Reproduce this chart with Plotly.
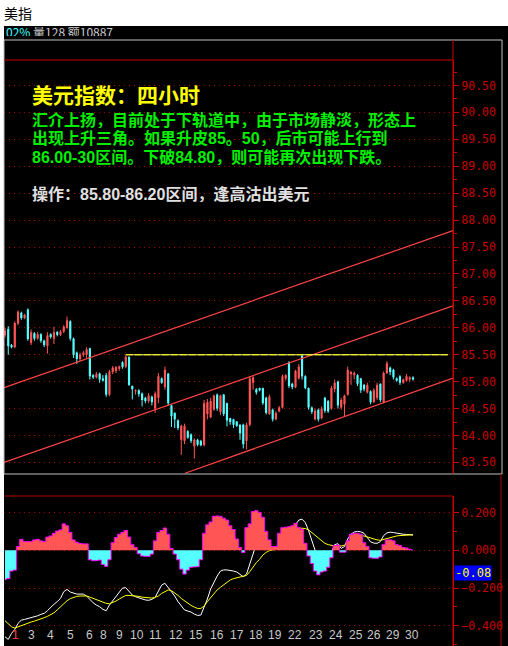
import plotly.graph_objects as go

# ---- US dollar index, 4-hour bars -------------------------------------------
opens = [85.86, 85.98, 85.68, 85.64, 86.08, 86.28, 86.18, 86.34, 85.72, 85.90,
         85.80, 85.88, 85.76, 85.66, 85.88, 85.80, 85.92, 85.87, 85.93, 86.00,
         86.12, 85.80, 85.54, 85.42, 85.50, 85.50, 85.62, 85.12, 85.08, 85.15,
         85.06, 85.12, 84.76, 85.18, 85.20, 85.24, 85.36, 85.28, 85.46, 84.92,
         84.82, 84.84, 84.78, 84.70, 84.64, 84.72, 84.50, 84.70, 85.06, 84.90,
         85.15, 84.56, 84.42, 84.28, 83.92, 83.90, 84.08, 84.02, 83.80, 83.92,
         83.90, 83.82, 84.40, 84.34, 84.48, 84.76, 84.44, 84.76, 84.60, 84.32,
         84.30, 84.26, 84.20, 84.20, 83.90, 84.20, 84.98, 84.86, 84.88, 84.88,
         84.70, 84.40, 84.48, 84.30, 84.45, 84.52, 85.06, 85.36, 84.96, 84.90,
         85.06, 85.48, 85.10, 84.88, 84.52, 84.30, 84.48, 84.32, 84.70, 84.64,
         84.50, 84.86, 85.00, 84.52, 84.58, 84.76, 85.14, 85.12, 85.12, 85.06,
         84.94, 84.80, 84.82, 84.62, 84.70, 84.96, 84.62, 85.16, 85.26, 85.22,
         85.06, 85.10, 84.98, 85.02, 85.04, 85.08]
highs = [86.00, 86.03, 85.70, 86.12, 86.32, 86.30, 86.26, 86.36, 85.97, 85.92,
         85.92, 85.90, 85.78, 85.92, 85.90, 86.02, 85.94, 85.96, 86.05, 86.21,
         86.14, 85.82, 85.56, 85.54, 85.57, 85.64, 85.63, 85.14, 85.18, 85.17,
         85.12, 85.16, 85.22, 85.29, 85.29, 85.30, 85.38, 85.49, 85.47, 84.93,
         84.86, 84.86, 84.80, 84.72, 84.79, 84.74, 84.82, 85.16, 85.08, 85.28,
         85.16, 84.57, 84.43, 84.30, 84.20, 84.22, 84.10, 84.04, 83.95, 83.94,
         83.92, 84.66, 84.68, 84.70, 84.76, 84.78, 84.76, 84.77, 84.61, 84.33,
         84.31, 84.27, 84.21, 84.22, 84.24, 85.10, 85.10, 84.88, 84.89, 84.89,
         84.72, 84.76, 84.50, 84.45, 84.55, 85.13, 85.14, 85.38, 84.98, 85.22,
         85.33, 85.50, 85.12, 84.89, 84.54, 84.50, 84.50, 84.54, 84.72, 84.66,
         84.92, 85.04, 85.02, 84.70, 84.76, 85.28, 85.20, 85.19, 85.14, 85.07,
         84.96, 84.98, 84.84, 84.88, 84.98, 84.97, 85.19, 85.38, 85.28, 85.24,
         85.08, 85.12, 85.06, 85.14, 85.10, 85.10]
lows = [85.82, 85.50, 85.62, 85.62, 86.05, 86.15, 86.16, 85.76, 85.68, 85.76,
        85.78, 85.72, 85.64, 85.52, 85.80, 85.70, 85.84, 85.85, 85.90, 85.98,
        85.76, 85.44, 85.33, 85.38, 85.46, 85.44, 85.04, 85.05, 85.06, 84.98,
        85.00, 84.72, 84.73, 85.14, 85.16, 85.20, 85.24, 85.25, 84.92, 84.67,
        84.76, 84.72, 84.54, 84.60, 84.60, 84.56, 84.42, 84.60, 84.96, 84.85,
        84.56, 84.16, 84.14, 84.10, 83.64, 83.84, 83.94, 83.86, 83.57, 83.80,
        83.80, 83.80, 84.30, 84.32, 84.46, 84.46, 84.38, 84.36, 84.17, 84.20,
        84.14, 84.16, 83.92, 83.76, 83.74, 84.17, 84.85, 84.76, 84.82, 84.57,
        84.39, 84.38, 84.26, 84.28, 84.43, 84.50, 85.02, 84.88, 84.86, 84.88,
        85.04, 85.04, 84.86, 84.48, 84.40, 84.28, 84.26, 84.30, 84.42, 84.42,
        84.48, 84.80, 84.50, 84.48, 84.36, 84.74, 84.94, 85.04, 84.92, 84.79,
        84.82, 84.78, 84.58, 84.60, 84.66, 84.62, 84.60, 85.14, 85.12, 85.04,
        85.00, 84.94, 84.96, 85.00, 85.00, 85.02]
closes = [85.95, 85.66, 85.64, 86.09, 86.30, 86.18, 86.24, 85.79, 85.92, 85.80,
          85.88, 85.76, 85.68, 85.86, 85.83, 85.92, 85.87, 85.93, 86.02, 86.14,
          85.80, 85.50, 85.42, 85.50, 85.54, 85.60, 85.10, 85.08, 85.14, 85.04,
          85.02, 84.76, 85.19, 85.26, 85.27, 85.28, 85.27, 85.46, 84.94, 84.86,
          84.84, 84.77, 84.66, 84.64, 84.74, 84.62, 84.78, 85.10, 84.98, 85.22,
          84.60, 84.36, 84.30, 84.14, 84.18, 84.18, 83.96, 83.90, 83.92, 83.83,
          83.82, 84.60, 84.62, 84.64, 84.74, 84.50, 84.74, 84.40, 84.28, 84.25,
          84.20, 84.18, 84.04, 83.84, 84.20, 85.06, 85.08, 84.80, 84.84, 84.60,
          84.42, 84.72, 84.30, 84.42, 84.52, 85.10, 85.12, 84.92, 84.90, 85.20,
          85.28, 85.10, 84.88, 84.52, 84.44, 84.46, 84.30, 84.50, 84.46, 84.45,
          84.88, 84.98, 84.56, 84.66, 84.74, 85.22, 85.18, 85.16, 84.96, 84.84,
          84.86, 84.94, 84.62, 84.84, 84.94, 84.66, 85.16, 85.34, 85.18, 85.08,
          85.02, 84.98, 85.04, 85.10, 85.08, 85.04]

# ---- MACD readings per bar ---------------------------------------------------
macd_hist = [-0.155, -0.150, -0.110, -0.105, 0.020, 0.058, 0.046, 0.046, 0.046, 0.055,
             0.058, 0.050, 0.046, 0.070, 0.076, 0.090, 0.102, 0.108, 0.140, 0.130,
             0.095, 0.055, 0.042, 0.036, 0.034, 0.034, -0.050, -0.055, -0.055, -0.052,
             -0.075, -0.085, -0.050, 0.040, 0.068, 0.085, 0.095, 0.105, 0.070, 0.030,
             0.015, -0.018, -0.030, -0.032, -0.032, -0.020, 0.050, 0.095, 0.105, 0.118,
             0.085, 0.010, -0.020, -0.050, -0.100, -0.126, -0.105, -0.090, -0.088, -0.087,
             -0.050, 0.090, 0.135, 0.150, 0.180, 0.182, 0.180, 0.170, 0.160, 0.130,
             0.110, 0.060, 0.015, -0.012, 0.120, 0.140, 0.205, 0.210, 0.200, 0.175,
             0.100, 0.055, 0.020, 0.020, 0.090, 0.120, 0.122, 0.125, 0.130, 0.143,
             0.120, 0.110, 0.037, -0.030, -0.070, -0.110, -0.130, -0.115, -0.110, -0.090,
             -0.040, 0.025, 0.028, -0.010, -0.010, 0.050, 0.085, 0.090, 0.090, 0.085,
             0.040, 0.020, -0.040, -0.042, -0.042, -0.035, 0.030, 0.055, 0.055, 0.050,
             0.030, 0.025, 0.015, 0.012, 0.005, 0.002]
dif = [-0.458, -0.472, -0.440, -0.419, -0.387, -0.370, -0.366, -0.362, -0.359, -0.352,
       -0.347, -0.339, -0.334, -0.320, -0.302, -0.286, -0.272, -0.255, -0.219, -0.207,
       -0.221, -0.228, -0.232, -0.232, -0.232, -0.242, -0.263, -0.278, -0.290, -0.299,
       -0.313, -0.320, -0.290, -0.267, -0.242, -0.219, -0.200, -0.198, -0.219, -0.237,
       -0.246, -0.253, -0.260, -0.263, -0.265, -0.260, -0.249, -0.219, -0.184, -0.175,
       -0.196, -0.219, -0.242, -0.272, -0.295, -0.316, -0.322, -0.327, -0.338, -0.345,
       -0.343, -0.302, -0.258, -0.205, -0.166, -0.136, -0.110, -0.104, -0.104, -0.106,
       -0.110, -0.115, -0.126, -0.140, -0.126, -0.072, -0.012, 0.034, 0.060, 0.065,
       0.045, 0.020, 0.010, 0.012, 0.045, 0.080, 0.090, 0.100, 0.110, 0.135,
       0.160, 0.165, 0.147, 0.104, 0.046, 0.000, -0.040, -0.060, -0.060, -0.040,
       -0.010, 0.030, 0.035, 0.010, 0.020, 0.060, 0.085, 0.097, 0.100, 0.098,
       0.090, 0.066, 0.045, 0.038, 0.037, 0.046, 0.078, 0.092, 0.096, 0.094,
       0.090, 0.087, 0.085, 0.084, 0.083, 0.082]
dea = [-0.373, -0.391, -0.405, -0.412, -0.405, -0.398, -0.391, -0.385, -0.380, -0.375,
       -0.370, -0.362, -0.357, -0.350, -0.341, -0.331, -0.316, -0.299, -0.281, -0.267,
       -0.256, -0.248, -0.244, -0.242, -0.242, -0.242, -0.248, -0.255, -0.262, -0.269,
       -0.276, -0.281, -0.283, -0.278, -0.269, -0.258, -0.248, -0.239, -0.239, -0.240,
       -0.242, -0.244, -0.248, -0.249, -0.251, -0.253, -0.249, -0.242, -0.228, -0.217,
       -0.210, -0.214, -0.225, -0.239, -0.255, -0.269, -0.281, -0.292, -0.301, -0.308,
       -0.308, -0.295, -0.272, -0.251, -0.233, -0.210, -0.196, -0.184, -0.171, -0.157,
       -0.150, -0.145, -0.143, -0.138, -0.133, -0.113, -0.087, -0.065, -0.048, -0.025,
       -0.011, -0.002, 0.002, 0.005, 0.016, 0.034, 0.058, 0.081, 0.099, 0.111,
       0.117, 0.117, 0.115, 0.108, 0.094, 0.080, 0.064, 0.048, 0.037, 0.030,
       0.025, 0.023, 0.025, 0.023, 0.027, 0.037, 0.051, 0.064, 0.072, 0.076,
       0.076, 0.071, 0.064, 0.058, 0.055, 0.053, 0.058, 0.064, 0.069, 0.072,
       0.076, 0.078, 0.080, 0.081, 0.081, 0.081]

# ---- trend channel anchors (bar index, price) ---------------------------------
upper_x, upper_y = [-0.31, 137.25], [84.888, 87.806]
middle_x, middle_y = [-0.31, 137.25], [83.500, 86.409]
lower_x, lower_y = [55.15, 137.25], [83.300, 85.068]
resist_level = 85.50
resist_from, resist_to = 37, 135.7

# ---- date axis ----------------------------------------------------------------
day_labels = ["1", "3", "4", "5", "6", "8", "9", "10", "11", "12", "15",
              "16", "17", "18", "19", "22", "23", "24", "25", "26", "29", "30"]
day_label_bars = [3.1, 8.0, 13.9, 20.2, 26.0, 30.3, 35.2, 40.3, 46.1, 52.4, 58.5,
                  64.8, 71.1, 76.9, 82.7, 88.8, 95.2, 101.3, 107.4, 113.1, 119.0, 124.8]

W, H = 508, 646
def px(x):
    return x / W
def py(y):
    return 1 - y / H

UP, DOWN = "#ff5555", "#55ffff"
AXIS_RED = "#c80000"
GRID_RED = "#a00000"

fig = go.Figure()

# candles: wick + body segments grouped by colour
for is_up, col in ((True, UP), (False, DOWN)):
    wx, wy, bx, by = [], [], [], []
    for i, (o, h, l, c) in enumerate(zip(opens, highs, lows, closes)):
        if (c >= o) != is_up:
            continue
        wx += [i, i, None]
        wy += [l, h, None]
        bx += [i, i, None]
        by += [o, c, None]
    fig.add_trace(go.Scatter(x=wx, y=wy, mode="lines", line=dict(color=col, width=1),
                             xaxis="x", yaxis="y", hoverinfo="skip"))
    fig.add_trace(go.Scatter(x=bx, y=by, mode="lines", line=dict(color=col, width=2.2),
                             xaxis="x", yaxis="y", hoverinfo="skip"))

# channel lines
for cx, cy in ((upper_x, upper_y), (middle_x, middle_y), (lower_x, lower_y)):
    fig.add_trace(go.Scatter(x=cx, y=cy, mode="lines", line=dict(color="#ff4444", width=1.2),
                             xaxis="x", yaxis="y", hoverinfo="skip"))

# resistance line
fig.add_trace(go.Scatter(x=[resist_from, resist_to], y=[resist_level, resist_level], mode="lines",
                         line=dict(color="#f0f0a0", width=1), xaxis="x", yaxis="y", hoverinfo="skip"))
fig.add_trace(go.Scatter(x=[resist_from, resist_to], y=[resist_level, resist_level], mode="lines",
                         line=dict(color="#ffff00", width=1, dash="7px,2px"),
                         xaxis="x", yaxis="y", hoverinfo="skip"))

# MACD lines (underneath the histogram)
bars = list(range(len(macd_hist)))
fig.add_trace(go.Scatter(x=bars, y=dif, mode="lines", line=dict(color="#ffffff", width=1),
                         xaxis="x2", yaxis="y2", hoverinfo="skip"))
fig.add_trace(go.Scatter(x=bars, y=dea, mode="lines", line=dict(color="#ffff00", width=1),
                         xaxis="x2", yaxis="y2", hoverinfo="skip"))
# histogram as stepped fills
pos = [max(v, 0) for v in macd_hist]
neg = [min(v, 0) for v in macd_hist]
fig.add_trace(go.Scatter(x=bars, y=pos, mode="lines", line=dict(color=UP, width=0, shape="hvh"),
                         fill="tozeroy", fillcolor=UP, xaxis="x2", yaxis="y2", hoverinfo="skip"))
fig.add_trace(go.Scatter(x=bars, y=neg, mode="lines", line=dict(color=DOWN, width=0, shape="hvh"),
                         fill="tozeroy", fillcolor=DOWN, xaxis="x2", yaxis="y2", hoverinfo="skip"))
fig.add_trace(go.Scatter(x=bars, y=macd_hist, mode="lines",
                         line=dict(color="#ff00ff", width=1, shape="hvh"),
                         xaxis="x2", yaxis="y2", hoverinfo="skip"))

xrange = [-0.306, 137.25]
tickfont = dict(family="DejaVu Sans Mono", size=11.5, color=AXIS_RED)
yaxis_common = dict(side="right", showline=True, linecolor=AXIS_RED, linewidth=1,
                    ticks="outside", ticklen=5, tickcolor=AXIS_RED, tickwidth=1,
                    tickfont=tickfont, showgrid=True, gridcolor=GRID_RED, gridwidth=1,
                    griddash="1px,4px", zeroline=False, fixedrange=True)

fig.update_layout(
    width=W, height=H, margin=dict(l=0, r=0, t=0, b=0),
    paper_bgcolor="#000000", plot_bgcolor="#000000", showlegend=False,
    xaxis=dict(domain=[px(4), px(453)], range=xrange, visible=False, anchor="y"),
    yaxis=dict(domain=[py(474), py(60)], range=[83.2855, 90.9735], anchor="x",
               dtick=0.5, tick0=83.5, tickformat=".2f",
               minor=dict(dtick=0.25, tick0=83.5, ticks="outside", ticklen=3,
                          tickcolor=AXIS_RED, showgrid=False),
               **yaxis_common),
    xaxis2=dict(domain=[px(4), px(453)], range=xrange, visible=False, anchor="y2"),
    yaxis2=dict(domain=[0, py(496)], range=[-0.5069, 0.2876], anchor="x2",
                dtick=0.2, tick0=0, tickformat=".3f",
                minor=dict(dtick=0.1, tick0=0, ticks="outside", ticklen=3,
                           tickcolor=AXIS_RED, showgrid=False),
                **yaxis_common),
)

shapes = [
    # window frame strip on the left
    dict(type="rect", xref="paper", yref="paper", x0=0, x1=px(4), y0=0, y1=1,
         fillcolor="#ffffff", line=dict(width=0), layer="above"),
    # price panel frame
    dict(type="rect", xref="paper", yref="paper", x0=px(4), x1=px(502), y0=py(474), y1=py(40),
         line=dict(color="#c0c0c0", width=1), layer="above"),
    dict(type="line", xref="paper", yref="paper", x0=px(4), x1=px(453), y0=py(60), y1=py(60),
         line=dict(color=AXIS_RED, width=1), layer="above"),
    dict(type="line", xref="paper", yref="paper", x0=px(453), x1=px(453), y0=py(474), y1=py(40),
         line=dict(color=AXIS_RED, width=1), layer="above"),
    # indicator panel frame
    dict(type="line", xref="paper", yref="paper", x0=px(4), x1=px(453), y0=py(496), y1=py(496),
         line=dict(color="#b00000", width=1), layer="above"),
    dict(type="line", xref="paper", yref="paper", x0=px(453), x1=px(453), y0=0, y1=py(496),
         line=dict(color=AXIS_RED, width=1), layer="above"),
    dict(type="line", xref="paper", yref="paper", x0=px(501), x1=px(501), y0=0, y1=py(474),
         line=dict(color="#b00000", width=1), layer="above"),
]
fig.update_layout(shapes=shapes)

cjk = "Noto Sans CJK SC"
body_font = "Liberation Sans, Noto Sans CJK SC"
ann = []
# status line under the title bar
ann.append(dict(xref="paper", yref="paper", x=px(4), y=py(31.5), xanchor="left", yanchor="middle",
                showarrow=False, height=9, valign="middle",
                text="<span style='color:#40ffff'>02%</span> 量128 额10887",
                font=dict(family=cjk, size=12, color="#c8c8c8")))
# title bar
ann.append(dict(xref="paper", yref="paper", x=px(4), y=1, xanchor="left", yanchor="top",
                showarrow=False, text="美指", align="left", valign="middle",
                width=504, height=26, borderpad=0, borderwidth=0, bgcolor="#ffffff",
                font=dict(family=cjk, size=14, color="#000000")))
# commentary
ann.append(dict(xref="paper", yref="paper", x=px(30), y=py(95), xanchor="left", yanchor="middle",
                showarrow=False, text="<b>美元指数：四小时</b>", height=22,
                font=dict(family=body_font, size=21, color="#ffff00")))
green_lines = ["汇介上扬，目前处于下轨道中，由于市场静淡，形态上",
               "出现上升三角。如果升皮85。50，后市可能上行到",
               "86.00-30区间。下破84.80，则可能再次出现下跌。"]
for line, yy in zip(green_lines, (119, 137.5, 156)):
    ann.append(dict(xref="paper", yref="paper", x=px(30), y=py(yy), xanchor="left",
                    yanchor="middle", showarrow=False, text="<b>" + line + "</b>",
                    height=17, valign="middle",
                    font=dict(family=body_font, size=16, color="#00f000")))
ann.append(dict(xref="paper", yref="paper", x=px(30), y=py(193), xanchor="left", yanchor="middle",
                showarrow=False, text="<b>操作：85.80-86.20区间，逢高沽出美元</b>", height=17,
                font=dict(family=body_font, size=16, color="#e0e0e0")))
# current value tag on the indicator scale
ann.append(dict(xref="paper", yref="paper", x=px(454), y=py(573), xanchor="left", yanchor="middle",
                showarrow=False, text="-0.08", bgcolor="#0000ff", borderpad=0,
                font=dict(family="DejaVu Sans Mono", size=12, color="#ffff00")))
# day labels
for lab, b in zip(day_labels, day_label_bars):
    ann.append(dict(xref="x2", yref="paper", x=b, y=py(635), xanchor="center", yanchor="middle",
                    showarrow=False, text=lab,
                    font=dict(family="Liberation Sans", size=12,
                              color="#ff4040" if lab == "1" else "#c8c8c8")))
fig.update_layout(annotations=ann)

fig.write_html("out.html")
